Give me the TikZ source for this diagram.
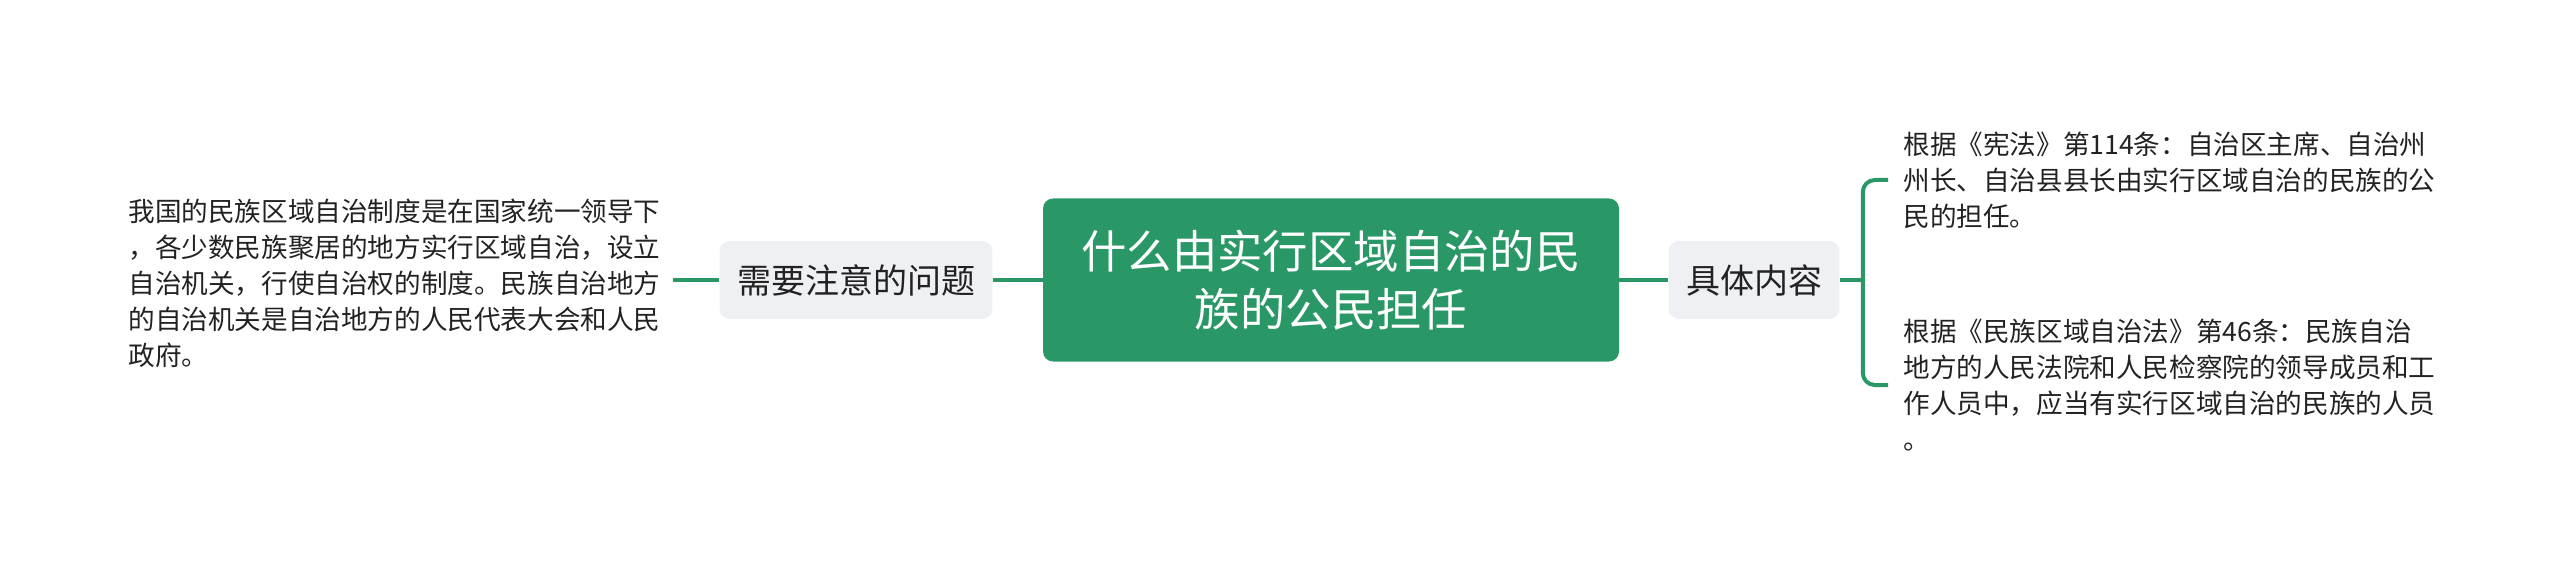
\documentclass[tikz,border=0pt]{standalone}
\usepackage{fontspec}
\setmainfont{Noto Sans CJK SC}
\usetikzlibrary{positioning}
\usetikzlibrary{calc}
\definecolor{mapgreen}{HTML}{2A9866}
\definecolor{mapgray}{HTML}{EEF0F3}
\definecolor{maptext}{HTML}{222222}
\tikzstyle{rootnode}=[rectangle,rounded corners=5pt,fill=mapgreen,text=white,minimum width=288pt,minimum height=81.5pt,inner sep=0pt,align=center,font=\fontsize{22.7pt}{29pt}\selectfont]
\tikzstyle{topicnode}=[rectangle,rounded corners=5pt,fill=mapgray,text=maptext,minimum height=39pt,inner xsep=8.7pt,inner ysep=0pt,font=\fontsize{17pt}{20pt}\selectfont]
\tikzstyle{leafnote}=[inner sep=0pt,align=left,anchor=west,text=maptext,font=\fontsize{13.3pt}{18pt}\selectfont]
\tikzstyle{link} = [draw,line width=2pt,mapgreen]
\tikzstyle{bracket} = [draw,line width=2pt,mapgreen,rounded corners=6pt]

\begin{document}
\begin{tikzpicture}[x=0.5pt,y=-0.5pt]
\useasboundingbox (0,0) rectangle (2560,577);

    % First we draw the central topic and its two branches
    \node[rootnode] (root) at (1331,280) {什么由实行区域自治的民\\族的公民担任};
    \foreach \pos/\name/\label in {{(856,280)/issue/需要注意的问题}, {(1754,280)/detail/具体内容}}
        \node[topicnode] (\name) at \pos {\label};

    % Then the notes
    \node[leafnote] (note) at (128,283) {我国的民族区域自治制度是在国家统一领导下\\，各少数民族聚居的地方实行区域自治，设立\\自治机关，行使自治权的制度。民族自治地方\\的自治机关是自治地方的人民代表大会和人民\\政府。};
    \node[leafnote] (law1) at (1903,180) {根据《宪法》第114条：自治区主席、自治州\\州长、自治县县长由实行区域自治的民族的公\\民的担任。};
    \node[leafnote] (law2) at (1903,385) {根据《民族区域自治法》第46条：民族自治\\地方的人民法院和人民检察院的领导成员和工\\作人员中，应当有实行区域自治的民族的人员\\。};

    % Connect nodes with edges
    \foreach \source/ \dest in {root/issue, root/detail}
        \path[link] (\source) -- (\dest);
    \path[link] (issue.west) -- ($(note.east |- issue.west)+(12,0)$);

    % the bracket on the right
    \coordinate (fork) at ($(detail.east)+(23,0)$);
    \path[link] (detail.east) -- (fork);
    \foreach \dest in {law1, law2}
        \path[bracket] (fork) |- ($(\dest.west)+(-15,0)$);

\end{tikzpicture}
\end{document}
